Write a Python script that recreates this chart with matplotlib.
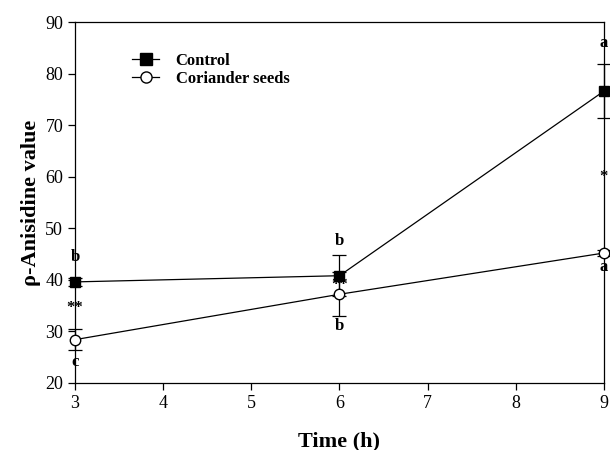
import matplotlib
matplotlib.use("Agg")
import matplotlib.pyplot as plt
from matplotlib.lines import Line2D
from matplotlib.transforms import offset_copy

time_h = [3, 6, 9]
control = [39.6, 40.8, 76.6]
control_err = [0.8, 4.0, 5.3]
coriander = [28.4, 37.2, 45.2]
coriander_err = [2.0, 4.3, 0.6]

annotations = [
    (3, 44.5, "b"), (3, 34.5, "**"), (3, 24.0, "c"),
    (6, 47.5, "b"), (6, 39.0, "**"), (6, 31.0, "b"),
    (9, 86.0, "a"), (9, 60.0, "*"), (9, 42.5, "a"),
]

plt.rcParams['font.family'] = ['Liberation Serif', 'DejaVu Serif']

fig = plt.figure(figsize=(6.1, 4.5), dpi=100)
ax = fig.add_axes([0.123, 0.149, 0.867, 0.802])

ax.errorbar(time_h, control, yerr=control_err, color='black', lw=0.9,
            marker='s', ms=7, mfc='black', mec='black', capsize=5,
            elinewidth=0.9, capthick=0.9, zorder=3, clip_on=False)
ax.errorbar(time_h, coriander, yerr=coriander_err, color='black', lw=0.9,
            marker='o', ms=7.5, mfc='white', mec='black', capsize=5,
            elinewidth=0.9, capthick=0.9, zorder=4, clip_on=False)

right_shift = offset_copy(ax.transData, fig=fig, x=4, y=0, units='dots')
for x, y, t in annotations:
    if x == 9:
        ax.text(x, y, t, ha='right', va='center', fontsize=12, fontweight='bold',
                clip_on=False, transform=right_shift)
    else:
        ax.text(x, y, t, ha='center', va='center', fontsize=12, fontweight='bold',
                clip_on=False)

ax.set_xlim(3, 9)
ax.set_ylim(20, 90)
ax.set_xticks([3, 4, 5, 6, 7, 8, 9])
ax.set_yticks([20, 30, 40, 50, 60, 70, 80, 90])
ax.tick_params(direction='out', length=5, width=0.9, labelsize=13, colors='black')
for s in ax.spines.values():
    s.set_linewidth(0.9)

ax.set_xlabel('Time (h)', fontsize=16, fontweight='bold', labelpad=14)
ax.set_ylabel('\u03c1-Anisidine value', fontsize=16, fontweight='bold', labelpad=3)

handles = [
    Line2D([], [], color='black', lw=0.9, marker='s', ms=8, mfc='black', mec='black'),
    Line2D([], [], color='black', lw=0.9, marker='o', ms=8, mfc='white', mec='black'),
]
ax.legend(handles, ['Control', 'Coriander seeds'], loc='upper left',
          bbox_to_anchor=(0.08, 0.955), frameon=False, handlelength=1.6,
          handletextpad=1.0, labelspacing=0.1,
          prop={'weight': 'bold', 'size': 12, 'family': 'Liberation Serif'})

fig.savefig('out.png', dpi=100)
